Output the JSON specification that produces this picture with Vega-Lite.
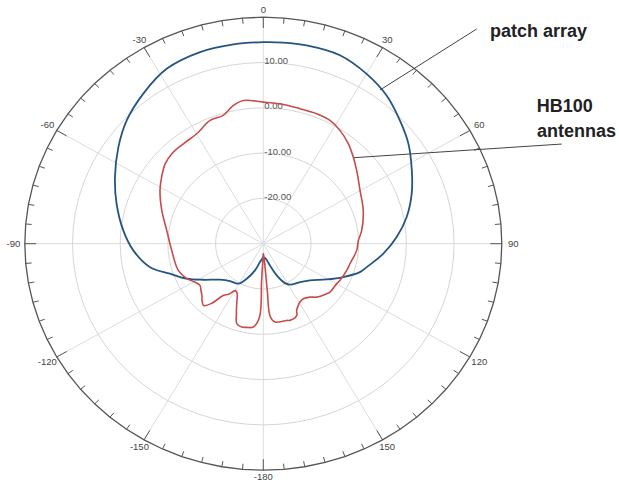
{
  "$schema": "https://vega.github.io/schema/vega-lite/v6.json",
  "width": 619,
  "height": 486,
  "padding": 0,
  "autosize": {"type": "none"},
  "background": "white",
  "config": {"view": {"stroke": null}},
  "datasets": {
    "circles": [
      {"level": -20, "angle": [0,5,10,15,20,25,30,35,40,45,50,55,60,65,70,75,80,85,90,95,100,105,110,115,120,125,130,135,140,145,150,155,160,165,170,175,180,185,190,195,200,205,210,215,220,225,230,235,240,245,250,255,260,265,270,275,280,285,290,295,300,305,310,315,320,325,330,335,340,345,350,355,360]},
      {"level": -10, "angle": [0,5,10,15,20,25,30,35,40,45,50,55,60,65,70,75,80,85,90,95,100,105,110,115,120,125,130,135,140,145,150,155,160,165,170,175,180,185,190,195,200,205,210,215,220,225,230,235,240,245,250,255,260,265,270,275,280,285,290,295,300,305,310,315,320,325,330,335,340,345,350,355,360]},
      {"level": 0, "angle": [0,5,10,15,20,25,30,35,40,45,50,55,60,65,70,75,80,85,90,95,100,105,110,115,120,125,130,135,140,145,150,155,160,165,170,175,180,185,190,195,200,205,210,215,220,225,230,235,240,245,250,255,260,265,270,275,280,285,290,295,300,305,310,315,320,325,330,335,340,345,350,355,360]},
      {"level": 10, "angle": [0,5,10,15,20,25,30,35,40,45,50,55,60,65,70,75,80,85,90,95,100,105,110,115,120,125,130,135,140,145,150,155,160,165,170,175,180,185,190,195,200,205,210,215,220,225,230,235,240,245,250,255,260,265,270,275,280,285,290,295,300,305,310,315,320,325,330,335,340,345,350,355,360]},
      {"level": 20, "angle": [0,5,10,15,20,25,30,35,40,45,50,55,60,65,70,75,80,85,90,95,100,105,110,115,120,125,130,135,140,145,150,155,160,165,170,175,180,185,190,195,200,205,210,215,220,225,230,235,240,245,250,255,260,265,270,275,280,285,290,295,300,305,310,315,320,325,330,335,340,345,350,355,360]}
    ],
    "spokes": [
      {"angle": 0}, {"angle": 30}, {"angle": 60}, {"angle": 90}, {"angle": 120}, {"angle": 150},
      {"angle": 180}, {"angle": 210}, {"angle": 240}, {"angle": 270}, {"angle": 300}, {"angle": 330}
    ],
    "angleLabels": [
      {"angle": 0, "label": "0"}, {"angle": 30, "label": "30"}, {"angle": 60, "label": "60"},
      {"angle": 90, "label": "90"}, {"angle": 120, "label": "120"}, {"angle": 150, "label": "150"},
      {"angle": 180, "label": "-180"}, {"angle": -150, "label": "-150"}, {"angle": -120, "label": "-120"},
      {"angle": -90, "label": "-90"}, {"angle": -60, "label": "-60"}, {"angle": -30, "label": "-30"}
    ],
    "ringLabels": [
      {"level": 10, "label": "10.00"}, {"level": 0, "label": "0.00"},
      {"level": -10, "label": "-10.00"}, {"level": -20, "label": "-20.00"}
    ],
    "patch": [
      {"angle": -180, "gain": -27.04}, {"angle": -170.4, "gain": -25.88}, {"angle": -163.5, "gain": -23.86},
      {"angle": -155.8, "gain": -21.52}, {"angle": -149.3, "gain": -19.73}, {"angle": -139.8, "gain": -19.2},
      {"angle": -131.2, "gain": -17.93}, {"angle": -122.3, "gain": -15.1}, {"angle": -115.7, "gain": -12.2},
      {"angle": -108.7, "gain": -9.35}, {"angle": -102.3, "gain": -5.7}, {"angle": -93.1, "gain": -2.7},
      {"angle": -84.3, "gain": -0.5}, {"angle": -74, "gain": 2.0}, {"angle": -64.7, "gain": 4.4},
      {"angle": -55, "gain": 7.1}, {"angle": -46.5, "gain": 9.5}, {"angle": -37.2, "gain": 11.6},
      {"angle": -27.7, "gain": 13.6}, {"angle": -17.4, "gain": 14.33}, {"angle": -8.1, "gain": 14.45},
      {"angle": 0, "gain": 14.5}, {"angle": 5.4, "gain": 14.6}, {"angle": 11.7, "gain": 14.7},
      {"angle": 21.1, "gain": 14.6}, {"angle": 30, "gain": 13.3}, {"angle": 38.3, "gain": 11.7},
      {"angle": 46.5, "gain": 9.5}, {"angle": 54, "gain": 7.6}, {"angle": 62.5, "gain": 5.1},
      {"angle": 70.5, "gain": 3.0}, {"angle": 79, "gain": 0.6}, {"angle": 87, "gain": -2.0},
      {"angle": 95, "gain": -4.74}, {"angle": 103.4, "gain": -7.7}, {"angle": 107.2, "gain": -8.8},
      {"angle": 113.7, "gain": -11.7}, {"angle": 120.7, "gain": -14.55}, {"angle": 129.6, "gain": -17.3},
      {"angle": 137.8, "gain": -18.55}, {"angle": 148.3, "gain": -19.36}, {"angle": 152.4, "gain": -20.18},
      {"angle": 158.1, "gain": -22.46}, {"angle": 163.7, "gain": -25.01}, {"angle": 171.4, "gain": -26.65},
      {"angle": 180, "gain": -27.04}
    ],
    "hb100": [
      {"angle": -180, "gain": -27.9}, {"angle": -177.5, "gain": -21.9}, {"angle": -177.2, "gain": -13.8},
      {"angle": -173.5, "gain": -11.5}, {"angle": -169.3, "gain": -11.2}, {"angle": -166.2, "gain": -11.05},
      {"angle": -162.5, "gain": -11.5}, {"angle": -160, "gain": -13.5}, {"angle": -157.2, "gain": -15.6},
      {"angle": -153.5, "gain": -17.7}, {"angle": -150.5, "gain": -18.1}, {"angle": -147, "gain": -16.7},
      {"angle": -143.7, "gain": -15.8}, {"angle": -140.6, "gain": -13.0}, {"angle": -137.5, "gain": -11.5},
      {"angle": -134.5, "gain": -12.0}, {"angle": -132, "gain": -12.7}, {"angle": -128, "gain": -13.4},
      {"angle": -124.7, "gain": -13.85}, {"angle": -120, "gain": -13.2}, {"angle": -115.7, "gain": -12.2},
      {"angle": -108.3, "gain": -11.23}, {"angle": -94.4, "gain": -10.74}, {"angle": -81.7, "gain": -9.54},
      {"angle": -71, "gain": -7.5}, {"angle": -61.5, "gain": -5.35}, {"angle": -55.4, "gain": -4.1},
      {"angle": -49.4, "gain": -2.9}, {"angle": -44, "gain": -2.4}, {"angle": -37.2, "gain": -2.3},
      {"angle": -29.9, "gain": -2.0}, {"angle": -22.3, "gain": -0.58}, {"angle": -16.5, "gain": -0.46},
      {"angle": -11.6, "gain": 1.17}, {"angle": -7.5, "gain": 1.9}, {"angle": 0, "gain": 1.26},
      {"angle": 7.8, "gain": 1.03}, {"angle": 14.5, "gain": 0.78}, {"angle": 21.3, "gain": 0.8},
      {"angle": 27.2, "gain": 0.6}, {"angle": 32.7, "gain": -0.27}, {"angle": 38.9, "gain": -1.63},
      {"angle": 44.6, "gain": -3.14}, {"angle": 50.4, "gain": -4.6}, {"angle": 59.9, "gain": -6.56},
      {"angle": 70.7, "gain": -7.8}, {"angle": 81.9, "gain": -9.16}, {"angle": 88, "gain": -10.07},
      {"angle": 94.3, "gain": -10.36}, {"angle": 103.7, "gain": -11.3}, {"angle": 108.6, "gain": -11.55},
      {"angle": 116.7, "gain": -12.0}, {"angle": 119.8, "gain": -12.26}, {"angle": 127.4, "gain": -12.4},
      {"angle": 129.7, "gain": -12.72}, {"angle": 136.5, "gain": -13.74}, {"angle": 140.3, "gain": -14.68},
      {"angle": 145.4, "gain": -15.24}, {"angle": 149.2, "gain": -15.0}, {"angle": 151.7, "gain": -14.53},
      {"angle": 154.6, "gain": -13.7}, {"angle": 156.1, "gain": -12.69}, {"angle": 161.7, "gain": -12.17},
      {"angle": 163.9, "gain": -12.37}, {"angle": 171.9, "gain": -12.52}, {"angle": 174.8, "gain": -13.8},
      {"angle": 175.4, "gain": -19.7}, {"angle": 176.5, "gain": -26.3}, {"angle": 180, "gain": -27.9}
    ],
    "notes": [
      {"x": 47.53, "y": 45.56, "text": "patch array"},
      {"x": 57.32, "y": 29.0, "text": "HB100"},
      {"x": 57.38, "y": 23.55, "text": "antennas"}
    ],
    "leaders": [
      {"x": 44.74, "y": 47.4, "x2": 24.47, "y2": 33.93},
      {"x": 62.56, "y": 22.0, "x2": 18.87, "y2": 18.98}
    ]
  },
  "encoding": {
    "x": {"field": "x", "type": "quantitative", "scale": {"domain": [-55.2, 74.57], "nice": false, "zero": false}, "axis": null},
    "y": {"field": "y", "type": "quantitative", "scale": {"domain": [-53.49, 53.8], "nice": false, "zero": false}, "axis": null}
  },
  "layer": [
    {
      "data": {"name": "spokes"},
      "transform": [
        {"calculate": "0", "as": "x"},
        {"calculate": "0", "as": "y"},
        {"calculate": "50*sin(datum.angle*PI/180)", "as": "x2"},
        {"calculate": "50*cos(datum.angle*PI/180)", "as": "y2"}
      ],
      "mark": {"type": "rule", "color": "#dcdcdc", "strokeWidth": 1},
      "encoding": {"x2": {"field": "x2"}, "y2": {"field": "y2"}}
    },
    {
      "data": {"name": "circles"},
      "transform": [
        {"flatten": ["angle"]},
        {"filter": "datum.level < 20"},
        {"calculate": "(datum.level+30)*sin(datum.angle*PI/180)", "as": "x"},
        {"calculate": "(datum.level+30)*cos(datum.angle*PI/180)", "as": "y"}
      ],
      "mark": {"type": "line", "color": "#d6d6d6", "strokeWidth": 1},
      "encoding": {"detail": {"field": "level"}, "order": {"field": "angle", "type": "quantitative"}}
    },
    {
      "data": {"name": "circles"},
      "transform": [
        {"flatten": ["angle"]},
        {"filter": "datum.level == 20"},
        {"calculate": "(datum.level+30)*sin(datum.angle*PI/180)", "as": "x"},
        {"calculate": "(datum.level+30)*cos(datum.angle*PI/180)", "as": "y"}
      ],
      "mark": {"type": "line", "color": "#555555", "strokeWidth": 1.3},
      "encoding": {"order": {"field": "angle", "type": "quantitative"}}
    },
    {
      "data": {"name": "circles"},
      "transform": [
        {"flatten": ["angle"]},
        {"filter": "datum.level == 20 && datum.angle < 360"},
        {"calculate": "datum.angle % 30 == 0 ? 2.4 : 1.25", "as": "len"},
        {"calculate": "50*sin(datum.angle*PI/180)", "as": "x"},
        {"calculate": "50*cos(datum.angle*PI/180)", "as": "y"},
        {"calculate": "(50-datum.len)*sin(datum.angle*PI/180)", "as": "x2"},
        {"calculate": "(50-datum.len)*cos(datum.angle*PI/180)", "as": "y2"}
      ],
      "mark": {"type": "rule", "color": "#555555", "strokeWidth": 1},
      "encoding": {"x2": {"field": "x2"}, "y2": {"field": "y2"}}
    },
    {
      "data": {"name": "ringLabels"},
      "transform": [
        {"calculate": "0.2", "as": "x"},
        {"calculate": "datum.level+30+0.3", "as": "y"}
      ],
      "mark": {"type": "text", "align": "left", "baseline": "middle", "fontSize": 9.5, "font": "Liberation Sans", "color": "#555555"},
      "encoding": {"text": {"field": "label"}}
    },
    {
      "data": {"name": "angleLabels"},
      "transform": [
        {"calculate": "51.5+0.9*abs(sin(datum.angle*PI/180))", "as": "lr"},
        {"calculate": "datum.lr*sin(datum.angle*PI/180)", "as": "x"},
        {"calculate": "datum.lr*cos(datum.angle*PI/180)", "as": "y"}
      ],
      "mark": {"type": "text", "align": "center", "baseline": "middle", "fontSize": 9.5, "font": "Liberation Sans", "color": "#444444"},
      "encoding": {"text": {"field": "label"}}
    },
    {
      "data": {"name": "leaders"},
      "mark": {"type": "rule", "color": "#444444", "strokeWidth": 1},
      "encoding": {"x2": {"field": "x2"}, "y2": {"field": "y2"}}
    },
    {
      "data": {"name": "patch"},
      "transform": [
        {"calculate": "(datum.gain+30)*sin(datum.angle*PI/180)", "as": "x"},
        {"calculate": "(datum.gain+30)*cos(datum.angle*PI/180)", "as": "y"}
      ],
      "mark": {"type": "line", "color": "#245580", "strokeWidth": 1.8, "interpolate": "catmull-rom"},
      "encoding": {"order": {"field": "angle", "type": "quantitative"}}
    },
    {
      "data": {"name": "hb100"},
      "transform": [
        {"calculate": "(datum.gain+30)*sin(datum.angle*PI/180)", "as": "x"},
        {"calculate": "(datum.gain+30)*cos(datum.angle*PI/180)", "as": "y"}
      ],
      "mark": {"type": "line", "color": "#c84b4b", "strokeWidth": 1.6, "interpolate": "catmull-rom"},
      "encoding": {"order": {"field": "angle", "type": "quantitative"}}
    },
    {
      "data": {"name": "notes"},
      "mark": {"type": "text", "align": "left", "baseline": "alphabetic", "fontSize": 18, "fontWeight": "bold", "font": "Liberation Sans", "color": "#222222"},
      "encoding": {"text": {"field": "text"}}
    }
  ]
}
